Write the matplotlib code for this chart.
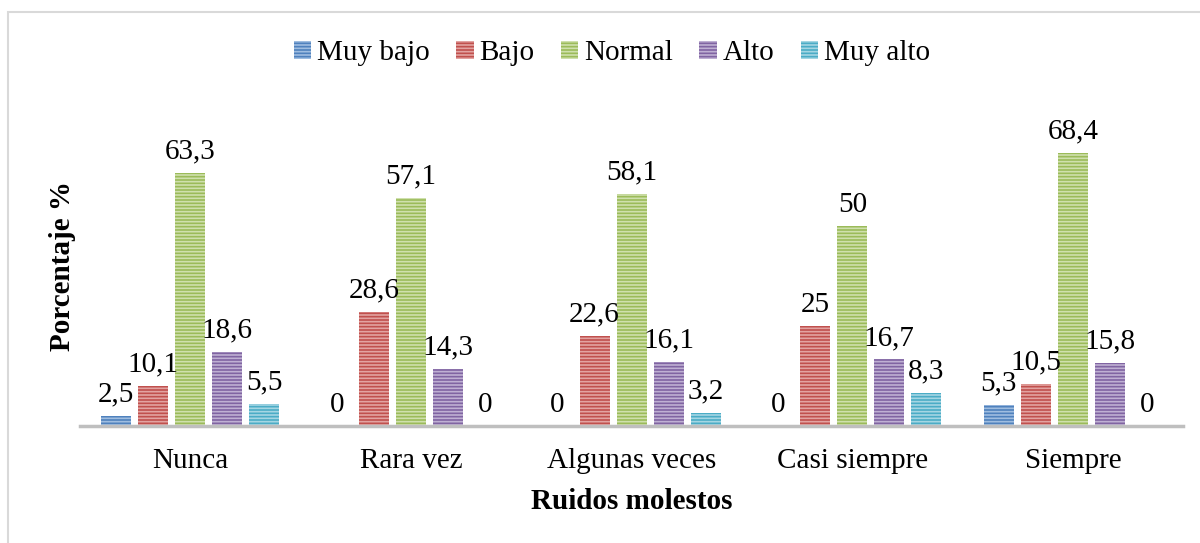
import numpy as np
import matplotlib
matplotlib.use('Agg')
from matplotlib import pyplot as plt
from matplotlib.patches import Rectangle

categories = ['Nunca', 'Rara vez', 'Algunas veces', 'Casi siempre', 'Siempre']
series = ['Muy bajo', 'Bajo', 'Normal', 'Alto', 'Muy alto']
muy_bajo = [2.5, 0, 0, 0, 5.3]
bajo = [10.1, 28.6, 22.6, 25, 10.5]
normal = [63.3, 57.1, 58.1, 50, 68.4]
alto = [18.6, 14.3, 16.1, 16.7, 15.8]
muy_alto = [5.5, 0, 3.2, 8.3, 0]
labels = [['2,5', '0', '0', '0', '5,3'],
          ['10,1', '28,6', '22,6', '25', '10,5'],
          ['63,3', '57,1', '58,1', '50', '68,4'],
          ['18,6', '14,3', '16,1', '16,7', '15,8'],
          ['5,5', '0', '3,2', '8,3', '0']]

colors = ['#4F81BD', '#C0504D', '#9BBB59', '#8064A2', '#4BACC6']
hatch_cols = ['#9fbde0', '#e2a3a1', '#cfe0ad', '#bfb0d3', '#a5d6e3']

plt.rcParams['font.family'] = ['Liberation Serif', 'DejaVu Serif']
plt.rcParams['hatch.linewidth'] = 1.2

fig = plt.figure(figsize=(12, 5.43), dpi=100)
ax = fig.add_axes([0.0667, 0.2155, 0.9193, 0.589])

values = [muy_bajo, bajo, normal, alto, muy_alto]
x = np.arange(len(categories))
step = 0.168
width = 0.136
for i, (name, vals) in enumerate(zip(series, values)):
    pos = x + (i - 2) * step
    ax.bar(pos, vals, width, color=colors[i], edgecolor=hatch_cols[i],
           linewidth=0, hatch='-----', label=name)
    for p, v, t in zip(pos, vals, labels[i]):
        ax.annotate(t, (p, v), xytext=(0, 6), textcoords='offset points',
                    ha='center', va='bottom', fontsize=21)

ax.set_xlim(-0.5, 4.5)
ax.set_ylim(0, 80)
ax.set_xticks(x)
ax.set_xticklabels(categories, fontsize=21)
ax.tick_params(axis='x', length=0, pad=16)
ax.set_yticks([])
for s in ['top', 'right', 'left']:
    ax.spines[s].set_visible(False)
ax.spines['bottom'].set_color('#bfbfbf')
ax.spines['bottom'].set_linewidth(2.5)

ax.set_xlabel('Ruidos molestos', fontsize=21, fontweight='bold', labelpad=10)
ax.set_ylabel('Porcentaje %', fontsize=21, fontweight='bold', labelpad=3)

fig.legend(loc='center', bbox_to_anchor=(0.51, 0.902), ncol=5, frameon=False,
           fontsize=21, handlelength=0.6, handleheight=0.6, handletextpad=0.2,
           columnspacing=0.9)

fig.patches.append(Rectangle((8 / 1200, -0.05), 1.2, 1 - 12 / 543 + 0.05,
                             transform=fig.transFigure, fill=False,
                             edgecolor='#d9d9d9', linewidth=1.5))

fig.savefig('out.png', dpi=100)
